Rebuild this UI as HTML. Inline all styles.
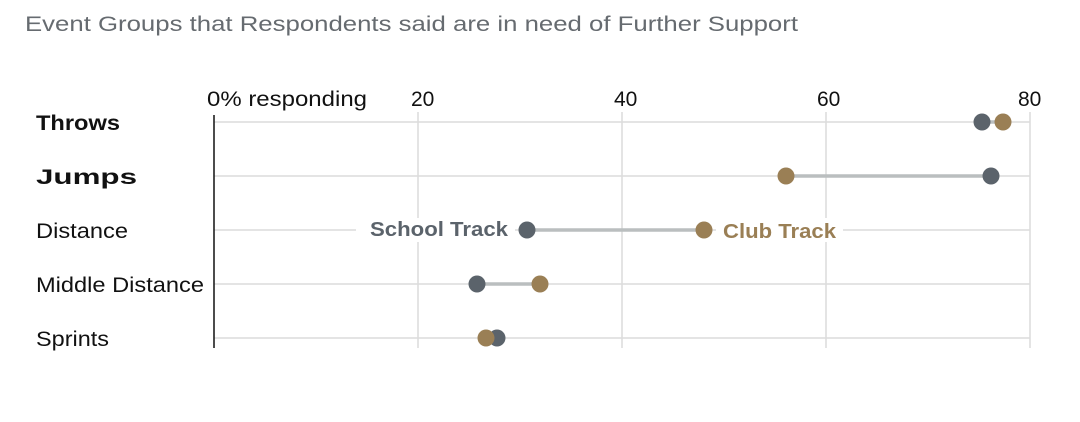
<!DOCTYPE html>
<html><head><style>body{margin:0;background:#fff}svg{display:block}</style></head><body>
<svg width="1080" height="422" xmlns="http://www.w3.org/2000/svg" font-family="Liberation Sans, sans-serif">
<rect width="1080" height="422" fill="#fff"/>
<text x="25" y="31" font-size="21" fill="#666b70" textLength="773" lengthAdjust="spacingAndGlyphs">Event Groups that Respondents said are in need of Further Support</text>
<g stroke="#dcdcdc" stroke-width="1.5">
<line x1="418" y1="112" x2="418" y2="348"/><line x1="622" y1="112" x2="622" y2="348"/><line x1="826" y1="112" x2="826" y2="348"/><line x1="1030" y1="112" x2="1030" y2="348"/>
<line x1="214" y1="122" x2="1030" y2="122"/><line x1="214" y1="176" x2="1030" y2="176"/><line x1="214" y1="230" x2="1030" y2="230"/><line x1="214" y1="284" x2="1030" y2="284"/><line x1="214" y1="338" x2="1030" y2="338"/>
</g>
<line x1="214" y1="115" x2="214" y2="348" stroke="#111" stroke-width="1.5"/>
<g font-size="21" fill="#111">
<text x="207" y="106" textLength="160" lengthAdjust="spacingAndGlyphs">0% responding</text><text x="411" y="106">20</text><text x="614" y="106">40</text><text x="817" y="106">60</text><text x="1018" y="106">80</text>
</g>
<g font-size="21" fill="#111">
<text x="36" y="130" font-weight="bold" textLength="84" lengthAdjust="spacingAndGlyphs">Throws</text>
<text x="36" y="184" font-weight="bold" textLength="101" lengthAdjust="spacingAndGlyphs">Jumps</text>
<text x="36" y="238" textLength="92" lengthAdjust="spacingAndGlyphs">Distance</text>
<text x="36" y="292" textLength="168" lengthAdjust="spacingAndGlyphs">Middle Distance</text>
<text x="36" y="346" textLength="73" lengthAdjust="spacingAndGlyphs">Sprints</text>
</g>
<rect x="356" y="218" width="159" height="24" fill="#fff"/>
<rect x="716" y="218" width="127" height="24" fill="#fff"/>
<g stroke="#babebf" stroke-width="3.5">
<line x1="982" y1="122" x2="1003" y2="122"/><line x1="786" y1="176" x2="991" y2="176"/><line x1="527" y1="230" x2="704" y2="230"/><line x1="477" y1="284" x2="540" y2="284"/>
</g>
<g fill="#5b636b"><circle cx="982" cy="122" r="8.5"/><circle cx="991" cy="176" r="8.5"/><circle cx="527" cy="230" r="8.5"/><circle cx="477" cy="284" r="8.5"/><circle cx="497" cy="338" r="8.5"/></g>
<g fill="#9a7f55"><circle cx="1003" cy="122" r="8.5"/><circle cx="786" cy="176" r="8.5"/><circle cx="704" cy="230" r="8.5"/><circle cx="540" cy="284" r="8.5"/><circle cx="486" cy="338" r="8.5"/></g>
<text x="370" y="236" font-size="20" font-weight="bold" fill="#5b636b" textLength="138" lengthAdjust="spacingAndGlyphs">School Track</text>
<text x="723" y="238" font-size="20" font-weight="bold" fill="#9a7f55" textLength="113" lengthAdjust="spacingAndGlyphs">Club Track</text>
</svg>
</body></html>
